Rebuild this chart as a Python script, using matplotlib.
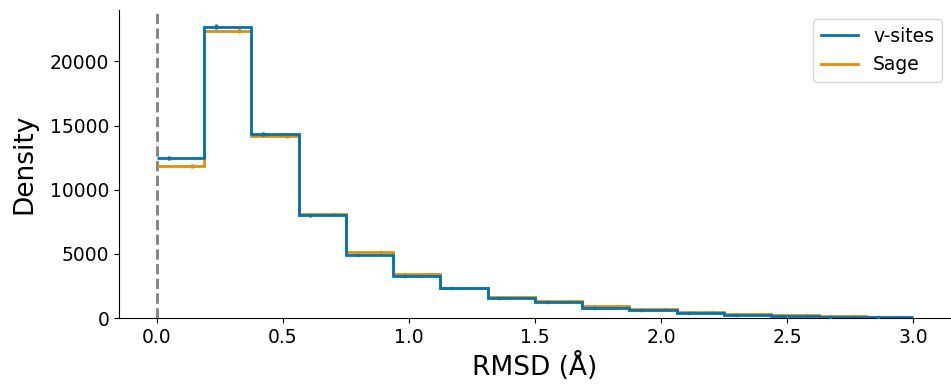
import numpy as np
import matplotlib.pyplot as plt

# histogram densities (16 bins from 0 to 3 A)
bin_edges = np.linspace(0, 3.0, 17)
vsites_density = [12500, 22700, 14350, 8000, 4950, 3300, 2320, 1570, 1220,
                  820, 590, 380, 240, 160, 100, 50]
sage_density = [11880, 22400, 14150, 8080, 5150, 3420, 2330, 1660, 1320,
                920, 670, 470, 310, 200, 130, 70]
vsites_err = [150, 200, 150, 100, 80, 60, 50, 40, 35, 30, 25, 20, 15, 12, 10, 8]
sage_err = [150, 200, 150, 100, 80, 60, 50, 40, 35, 30, 25, 20, 15, 12, 10, 8]

series_labels = ["v-sites", "Sage"]
series_colors = ["#0173b2", "#de8f05"]

fig = plt.figure(figsize=(9.51, 3.86), dpi=100)
ax = fig.add_axes([0.125, 0.176, 0.875, 0.798])

width = bin_edges[1] - bin_edges[0]
left = bin_edges[:-1]

ax.stairs(sage_density, bin_edges, baseline=None, color=series_colors[1],
          lw=2, zorder=2)
ax.errorbar(left + 0.75 * width, sage_density, yerr=sage_err, fmt="s",
            ms=2, color=series_colors[1], elinewidth=2, capsize=0, zorder=2)
ax.stairs(vsites_density, bin_edges, baseline=None, color=series_colors[0],
          lw=2, zorder=3)
ax.errorbar(left + 0.25 * width, vsites_density, yerr=vsites_err, fmt="s",
            ms=2, color=series_colors[0], elinewidth=2, capsize=0, zorder=3)

ax.axvline(0, color="gray", ls="--", lw=2, zorder=1)

handles = [plt.Line2D([], [], color=c, lw=2) for c in series_colors]
ax.legend(handles, series_labels, loc="upper right", fontsize=13.5,
          handlelength=2.0)

ax.set_xlim(-0.15, 3.15)
ax.set_ylim(0, 24000)
ax.set_xticks([0.0, 0.5, 1.0, 1.5, 2.0, 2.5, 3.0])
ax.set_yticks([0, 5000, 10000, 15000, 20000])
ax.tick_params(labelsize=13.5)
ax.set_xlabel("RMSD (Å)", fontsize=19)
ax.set_ylabel("Density", fontsize=19, labelpad=9)
ax.spines["top"].set_visible(False)
ax.spines["right"].set_visible(False)

fig.savefig("out.png", dpi=100)
